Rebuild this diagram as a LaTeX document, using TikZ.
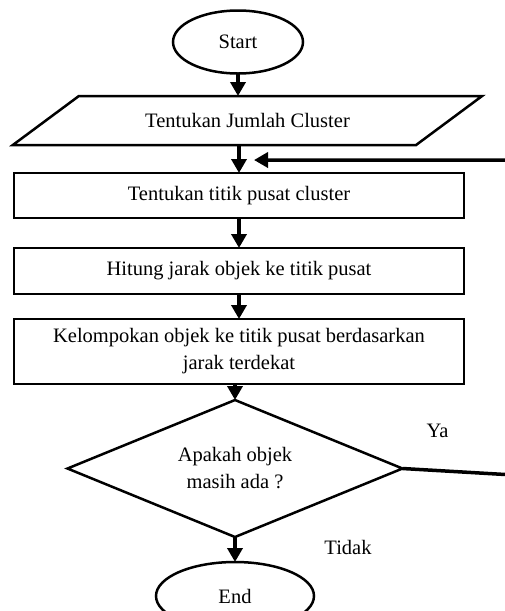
\documentclass[tikz,border=0pt]{standalone}
\usepackage{fontspec}
\setmainfont{Liberation Serif}
\usetikzlibrary{shapes.geometric, arrows.meta, positioning}
\tikzset{
  every node/.style={font=\fontsize{20.5}{27}\selectfont},
  terminal/.style={ellipse, draw=black, line width=2.5pt, outer sep=0pt, inner sep=0pt, text centered},
  io/.style={trapezium, trapezium stretches=true, trapezium left angle=27, trapezium right angle=153, minimum width=471pt, minimum height=49pt, outer sep=0pt, text centered, draw=black, line width=2.5pt},
  process/.style={rectangle, minimum width=450pt, outer sep=0pt, align=center, draw=black, line width=2.5pt},
  decision/.style={diamond, aspect=2.45, minimum width=335pt, minimum height=137pt, outer sep=0pt, inner sep=2pt, align=center, draw=black, line width=2.5pt},
  arrow/.style={line width=3.5pt, -{Triangle[length=14pt,width=15pt]}},
  line/.style={line width=3.5pt}
}
\begin{document}
\begin{tikzpicture}[x=1pt, y=1pt]
  \useasboundingbox (0,0) rectangle (505,-611);
  \clip (0,0) rectangle (505,-611);

  \node (start) [terminal, minimum width=130pt, minimum height=63pt] at (238,-42) {Start};
  \node (input) [io, below=22.5pt of start, xshift=9.5pt] {Tentukan Jumlah Cluster};
  \node (pusat) [process, minimum height=45pt, below=28pt of input, xshift=-8.5pt] {Tentukan titik pusat cluster};
  \node (jarak) [process, minimum height=46pt, below=30pt of pusat] {Hitung jarak objek ke titik pusat};
  \node (kelompok) [process, minimum height=65pt, below=25pt of jarak] {Kelompokan objek ke titik pusat berdasarkan\\jarak terdekat};
  \node (decision) [decision, below=16pt of kelompok, xshift=-4pt] {Apakah objek\\masih ada ?};
  \node (stop) [terminal, minimum width=158pt, minimum height=68pt, below=25pt of decision] {End};

  \node (ya) at ([xshift=35pt,yshift=38pt]decision.east) {Ya};
  \node (tidak) at ([xshift=113pt,yshift=-10pt]decision.south) {Tidak};

  \coordinate (loop) at ([xshift=120pt,yshift=-7pt]decision.east);
  \coordinate (join) at ([xshift=15pt,yshift=13pt]pusat.north);

  \draw [arrow] (start) -- (start |- input.north);
  \draw [arrow] (input.south -| pusat) -- (pusat);
  \draw [arrow] (pusat) -- (jarak);
  \draw [arrow] (jarak) -- (kelompok);
  \draw [arrow] (kelompok.south -| decision) -- (decision);
  \draw [arrow] (decision) -- (stop);
  \draw [arrow] (decision.east) -- (loop) |- (join);

\end{tikzpicture}
\end{document}
